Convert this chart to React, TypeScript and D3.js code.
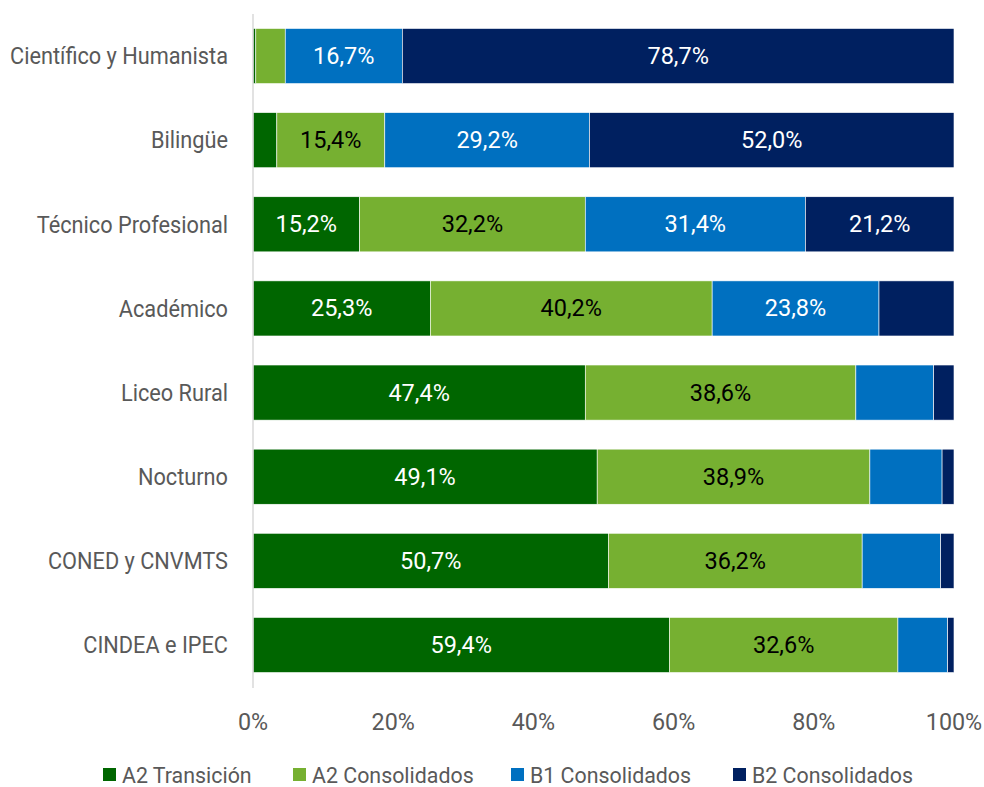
import React from "react";
import * as d3 from "d3";

const categories = [
  "Científico y Humanista",
  "Bilingüe",
  "Técnico Profesional",
  "Académico",
  "Liceo Rural",
  "Nocturno",
  "CONED y CNVMTS",
  "CINDEA e IPEC",
];
const seriesNames = ["A2 Transición", "A2 Consolidados", "B1 Consolidados", "B2 Consolidados"];
const a2Transicion = [0.4, 3.4, 15.2, 25.3, 47.4, 49.1, 50.7, 59.4];
const a2Consolidados = [4.2, 15.4, 32.2, 40.2, 38.6, 38.9, 36.2, 32.6];
const b1Consolidados = [16.7, 29.2, 31.4, 23.8, 11.1, 10.3, 11.2, 7.1];
const b2Consolidados = [78.7, 52.0, 21.2, 10.7, 2.9, 1.7, 1.9, 0.9];
const xTicks = [0, 20, 40, 60, 80, 100];

const colors = ["#006600", "#76B031", "#0070C0", "#002060"];
const labelColors = ["#ffffff", "#000000", "#ffffff", "#ffffff"];
const FONT = "Roboto, 'Noto Sans', sans-serif";

export default function App() {
  const width = 984;
  const height = 787;
  const x = d3.scaleLinear().domain([0, 100]).range([253, 954]);
  const y = d3.scaleBand().domain(categories).range([14, 687]).paddingInner(0.345).paddingOuter(0.172);

  const rows = categories.map((c, i) => ({
    cat: c,
    v0: a2Transicion[i],
    v1: a2Consolidados[i],
    v2: b1Consolidados[i],
    v3: b2Consolidados[i],
  }));
  const stack = d3.stack<any>().keys(["v0", "v1", "v2", "v3"]);
  const series = stack(rows);
  const fmt = (v: number) => v.toFixed(1).replace(".", ",") + "%";

  const legendX = [103, 293, 511, 733];
  const sx = 0.945;

  return (
    <svg width={width} height={height} style={{ position: "absolute", left: 0, top: 0 }} fontFamily={FONT}>
      <rect width={width} height={height} fill="#fff" />
      {series.map((s, si) => (
        <g key={si}>
          {s.map((d, i) => {
            const x0 = x(d[0]);
            const x1 = x(d[1]);
            const yy = y(categories[i])!;
            const val = d[1] - d[0];
            return (
              <g key={i}>
                <rect x={x0} y={yy} width={Math.max(0, x1 - x0)} height={y.bandwidth()} fill={colors[si]} stroke="#ffffff" strokeWidth={0.6} />
                {val >= 12 && (
                  <text
                    x={(x0 + x1) / 2}
                    y={yy + y.bandwidth() / 2}
                    textAnchor="middle"
                    dominantBaseline="central"
                    fontSize={23.5}
                    fill={labelColors[si]}
                  >
                    {fmt(val)}
                  </text>
                )}
              </g>
            );
          })}
        </g>
      ))}
      <line x1={x(0)} x2={x(0)} y1={14} y2={688} stroke="#d9d9d9" strokeWidth={1.5} />
      {categories.map((c) => (
        <text
          key={c}
          transform={`translate(228,${y(c)! + y.bandwidth() / 2}) scale(${sx},1)`}
          textAnchor="end"
          dominantBaseline="central"
          fontSize={23}
          fill="#595959"
        >
          {c}
        </text>
      ))}
      {xTicks.map((t) => (
        <text key={t} x={x(t)} y={722} textAnchor="middle" dominantBaseline="central" fontSize={23.3} fill="#595959">
          {t}%
        </text>
      ))}
      {seriesNames.map((n, i) => (
        <g key={n}>
          <rect x={legendX[i]} y={768} width={13} height={13} fill={colors[i]} />
          <text
            transform={`translate(${legendX[i] + 19},775) scale(0.93,1)`}
            dominantBaseline="central"
            fontSize={23}
            fill="#595959"
          >
            {n}
          </text>
        </g>
      ))}
    </svg>
  );
}
